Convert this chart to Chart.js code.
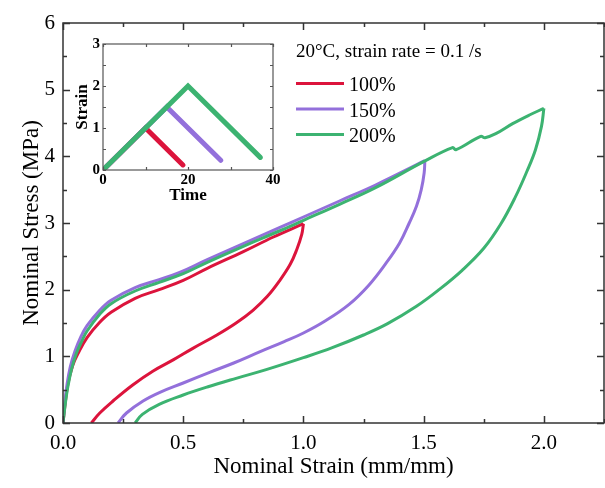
<!DOCTYPE html>
<html>
<head>
<meta charset="utf-8">
<script src="https://cdn.jsdelivr.net/npm/chart.js@4/dist/chart.umd.min.js"></script>
<style>
  html, body { margin: 0; padding: 0; background: #fff; }
  #wrap { position: relative; width: 605px; height: 488px; }
  #main { position: absolute; left: 0; top: 0; }
  #inset { position: absolute; left: 70px; top: 30px; }
</style>
</head>
<body>
<div id="wrap">
  <canvas id="main" width="605" height="488"></canvas>
  <canvas id="inset" width="215" height="180"></canvas>
</div>
<script>
// ── Data: [strain, stress] pairs ──
const LOAD_100 = [[0,0],[0.01,0.32],[0.02,0.58],[0.04,0.86],[0.065,1.06],[0.1,1.28],[0.15,1.5],[0.2,1.66],[0.3,1.87],[0.4,2.0],[0.5,2.14],[0.6,2.32],[0.75,2.57],[0.875,2.79],[1.0,2.99]];
const UNLOAD_100 = [[0.118,0],[0.153,0.15],[0.208,0.33],[0.29,0.57],[0.375,0.78],[0.46,0.95],[0.54,1.12],[0.64,1.32],[0.72,1.5],[0.79,1.69],[0.85,1.9],[0.9,2.13],[0.945,2.38],[0.972,2.6],[0.993,2.83],[1.0,2.99]];

const LOAD_150 = [[0,0],[0.008,0.32],[0.016,0.56],[0.03,0.84],[0.05,1.08],[0.075,1.3],[0.1,1.46],[0.15,1.68],[0.2,1.84],[0.3,2.03],[0.4,2.15],[0.48,2.25],[0.6,2.45],[0.75,2.69],[0.9,2.93],[1.0,3.09],[1.15,3.33],[1.3,3.57],[1.505,3.935]];
const UNLOAD_150 = [[0.229,0],[0.264,0.15],[0.333,0.33],[0.403,0.46],[0.5,0.6],[0.61,0.76],[0.71,0.9],[0.82,1.07],[0.92,1.22],[1.0,1.35],[1.09,1.53],[1.19,1.78],[1.27,2.06],[1.34,2.38],[1.4,2.7],[1.44,3.0],[1.47,3.25],[1.49,3.5],[1.502,3.75],[1.505,3.935]];

const LOAD_200 = [[0,0],[0.01,0.3],[0.02,0.54],[0.035,0.8],[0.055,1.04],[0.08,1.24],[0.1,1.38],[0.15,1.62],[0.2,1.79],[0.3,1.98],[0.4,2.11],[0.5,2.24],[0.6,2.41],[0.75,2.65],[0.9,2.88],[1.0,3.04],[1.15,3.28],[1.3,3.53],[1.5,3.92],[1.62,4.13],[1.635,4.1],[1.737,4.3],[1.755,4.28],[1.8,4.34],[1.87,4.49],[1.94,4.62],[2.0,4.72]];
const UNLOAD_200 = [[0.3,0],[0.33,0.13],[0.4,0.28],[0.5,0.42],[0.6,0.54],[0.72,0.67],[0.845,0.8],[1.0,0.98],[1.12,1.13],[1.25,1.32],[1.35,1.49],[1.47,1.75],[1.564,2.0],[1.66,2.29],[1.75,2.62],[1.82,2.98],[1.88,3.38],[1.93,3.78],[1.965,4.1],[1.99,4.45],[2.0,4.72]];

// ── Inset: time vs strain ──
const INSET_TIME_100   = [0, 10, 18.8];
const INSET_STRAIN_100 = [0, 1, 0.12];
const INSET_TIME_150   = [0, 15, 27.7];
const INSET_STRAIN_150 = [0, 1.5, 0.23];
const INSET_TIME_200   = [0, 20, 37];
const INSET_STRAIN_200 = [0, 2, 0.3];

// ── Axis ticks & labels ──
const X_TICKS = [0, 0.5, 1.0, 1.5, 2.0];
const Y_TICKS = [0, 1, 2, 3, 4, 5, 6];
const INSET_X_TICKS = [0, 20, 40];
const INSET_Y_TICKS = [0, 1, 2, 3];
const SERIES_LABELS = ['100%', '150%', '200%'];
const NOTE_TEXT = '20°C, strain rate = 0.1 /s';

// ── Colours ──
const C_RED    = '#DC143C';
const C_PURPLE = '#9370DB';
const C_GREEN  = '#3CB371';
const C_AXIS   = '#333333';
const SERIF    = '"Liberation Serif", "Times New Roman", serif';

const toXY = pairs => pairs.map(([x, y]) => ({ x, y }));
const zipXY = (xs, ys) => xs.map((x, i) => ({ x, y: ys[i] }));

// ── Frame with inward ticks on all four sides ──
const framePlugin = {
  id: 'frame',
  afterDatasetsDraw(chart, args, o) {
    const { ctx, chartArea: a, scales: { x, y } } = chart;
    ctx.save();
    ctx.strokeStyle = o.color;
    ctx.lineWidth = o.width;
    ctx.strokeRect(a.left, a.top, a.right - a.left, a.bottom - a.top);
    ctx.beginPath();
    for (let v = x.min, i = 0; v <= x.max + 1e-9; v = x.min + (++i) * o.xMinor) {
      const px = Math.round(x.getPixelForValue(v)) + 0.5;
      const len = Math.abs(v / o.xMajor - Math.round(v / o.xMajor)) < 1e-6 ? o.major : o.minor;
      ctx.moveTo(px, a.bottom); ctx.lineTo(px, a.bottom - len);
      ctx.moveTo(px, a.top);    ctx.lineTo(px, a.top + len);
    }
    for (let v = y.min, i = 0; v <= y.max + 1e-9; v = y.min + (++i) * o.yMinor) {
      const py = Math.round(y.getPixelForValue(v)) + 0.5;
      const len = Math.abs(v / o.yMajor - Math.round(v / o.yMajor)) < 1e-6 ? o.major : o.minor;
      ctx.moveTo(a.left, py);  ctx.lineTo(a.left + len, py);
      ctx.moveTo(a.right, py); ctx.lineTo(a.right - len, py);
    }
    ctx.stroke();
    ctx.restore();
  }
};

// ── Note + legend drawn inside the main plot ──
const notePlugin = {
  id: 'note',
  afterDraw(chart) {
    const { ctx } = chart;
    ctx.save();
    ctx.font = '19px ' + SERIF;
    ctx.fillStyle = '#000';
    ctx.textBaseline = 'alphabetic';
    ctx.fillText(NOTE_TEXT, 296, 57);
    const colors = [C_RED, C_PURPLE, C_GREEN];
    ctx.font = '20px ' + SERIF;
    SERIES_LABELS.forEach((lbl, i) => {
      const ly = 83.5 + i * 25.5;
      ctx.strokeStyle = colors[i];
      ctx.lineWidth = 3;
      ctx.beginPath(); ctx.moveTo(296, ly); ctx.lineTo(344, ly); ctx.stroke();
      ctx.fillText(lbl, 349, ly + 7.5);
    });
    ctx.restore();
  }
};

function lineSet(data, color, order) {
  return {
    data: toXY(data),
    showLine: true,
    borderColor: color,
    backgroundColor: color,
    borderWidth: 3,
    borderJoinStyle: 'round',
    pointRadius: 0,
    tension: 0.4,
    fill: false,
    order,
  };
}

// ── Main stress–strain chart ──
new Chart(document.getElementById('main'), {
  type: 'scatter',
  data: {
    datasets: [
      lineSet(LOAD_100, C_RED, 2),
      lineSet(UNLOAD_100, C_RED, 2),
      lineSet(LOAD_150, C_PURPLE, 1),
      lineSet(UNLOAD_150, C_PURPLE, 1),
      lineSet(LOAD_200, C_GREEN, 0),
      lineSet(UNLOAD_200, C_GREEN, 0),
    ]
  },
  options: {
    responsive: false,
    devicePixelRatio: 1,
    animation: false,
    events: [],
    layout: { padding: { top: 23, right: 1, left: 0, bottom: 0 } },
    plugins: {
      legend: { display: false },
      tooltip: { enabled: false },
      frame: { color: C_AXIS, width: 1.5, major: 7, minor: 4, xMajor: 0.5, xMinor: 0.25, yMajor: 1, yMinor: 0.5 },
    },
    scales: {
      x: {
        type: 'linear', min: 0, max: 2.25,
        afterBuildTicks: s => { s.ticks = X_TICKS.map(value => ({ value })); },
        afterFit: s => { s.height = 65; },
        grid: { display: false, drawTicks: false },
        border: { display: false },
        ticks: { color: '#000', padding: 8, maxRotation: 0, font: { size: 21, family: SERIF }, callback: v => v.toFixed(1) },
        title: { display: true, text: 'Nominal Strain (mm/mm)', color: '#000', font: { size: 23, family: SERIF }, padding: { top: 0, bottom: 7 } },
      },
      y: {
        type: 'linear', min: 0, max: 6,
        afterBuildTicks: s => { s.ticks = Y_TICKS.map(value => ({ value })); },
        afterFit: s => { s.width = 63; },
        grid: { display: false, drawTicks: false },
        border: { display: false },
        ticks: { color: '#000', padding: 8, font: { size: 21, family: SERIF }, callback: v => String(v) },
        title: { display: true, text: 'Nominal Stress (MPa)', color: '#000', font: { size: 23, family: SERIF }, padding: { top: 18, bottom: 0 } },
      }
    }
  },
  plugins: [framePlugin, notePlugin]
});

// ── Inset: strain vs time ──
function insetSet(xs, ys, color, order) {
  return {
    data: zipXY(xs, ys),
    showLine: true,
    borderColor: color,
    backgroundColor: color,
    borderWidth: 5,
    borderCapStyle: 'round',
    pointRadius: 0,
    tension: 0,
    order,
  };
}

new Chart(document.getElementById('inset'), {
  type: 'scatter',
  data: {
    datasets: [
      insetSet(INSET_TIME_100, INSET_STRAIN_100, C_RED, 2),
      insetSet(INSET_TIME_150, INSET_STRAIN_150, C_PURPLE, 1),
      insetSet(INSET_TIME_200, INSET_STRAIN_200, C_GREEN, 0),
    ]
  },
  options: {
    responsive: false,
    devicePixelRatio: 1,
    animation: false,
    events: [],
    layout: { padding: { top: 14, right: 12, left: 0, bottom: 0 } },
    plugins: {
      legend: { display: false },
      tooltip: { enabled: false },
      frame: { color: '#555', width: 1.2, major: 3, minor: 3, xMajor: 20, xMinor: 10, yMajor: 1, yMinor: 0.5 },
    },
    scales: {
      x: {
        type: 'linear', min: 0, max: 40,
        afterBuildTicks: s => { s.ticks = INSET_X_TICKS.map(value => ({ value })); },
        afterFit: s => { s.height = 40; },
        grid: { display: false, drawTicks: false },
        border: { display: false },
        ticks: { color: '#000', padding: 1, maxRotation: 0, font: { size: 15, weight: 'bold', family: SERIF } },
        title: { display: true, text: 'Time', color: '#000', font: { size: 17, weight: 'bold', family: SERIF }, padding: { top: 0, bottom: 4 } },
      },
      y: {
        type: 'linear', min: 0, max: 3,
        afterBuildTicks: s => { s.ticks = INSET_Y_TICKS.map(value => ({ value })); },
        afterFit: s => { s.width = 33; },
        grid: { display: false, drawTicks: false },
        border: { display: false },
        ticks: { color: '#000', padding: 3, font: { size: 15, weight: 'bold', family: SERIF } },
        title: { display: true, text: 'Strain', color: '#000', font: { size: 17, weight: 'bold', family: SERIF }, padding: { top: 2, bottom: 0 } },
      }
    }
  },
  plugins: [framePlugin]
});
</script>
</body>
</html>
